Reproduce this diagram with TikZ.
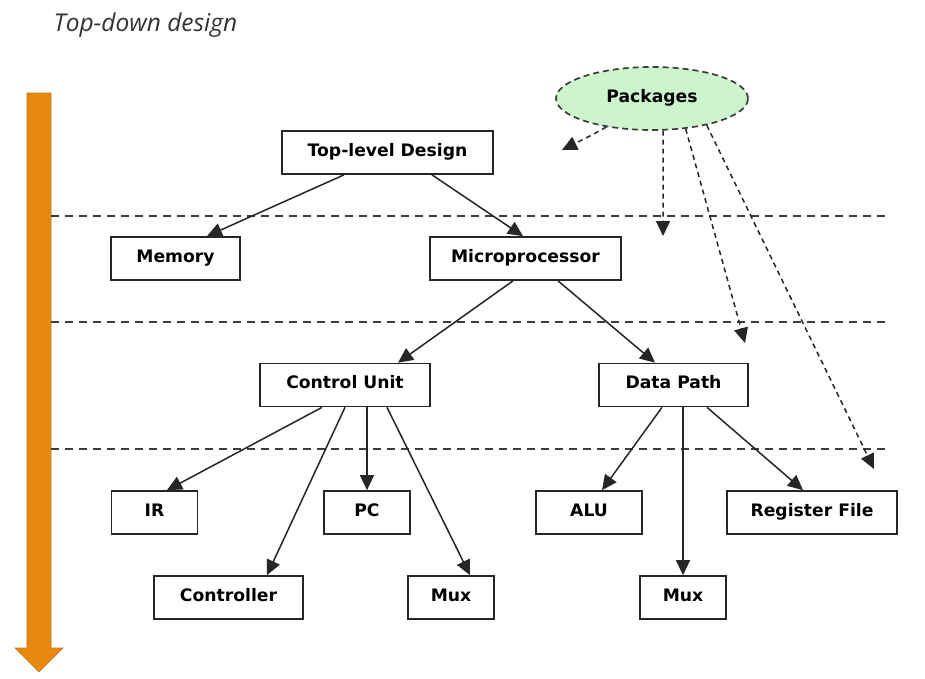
\documentclass[tikz,border=0pt]{standalone}
\usepackage{fontspec}
\setmainfont{DejaVu Sans}
\newfontfamily\titlefont{Open Sans}
\usetikzlibrary{arrows.meta,shapes.geometric}
\definecolor{barorange}{HTML}{E8890F}
\definecolor{pkggreen}{HTML}{CCF5CC}
\definecolor{linegray}{HTML}{3C3C3C}
\tikzset{
  block/.style    = {shape=rectangle, draw=black!85, line width=1.7pt,
                     minimum height=43pt, inner sep=0pt,
                     text height=0.73em, text depth=0em,
                     font=\fontsize{17.2}{19}\selectfont\bfseries},
  pkgnode/.style  = {shape=ellipse, draw=linegray, fill=pkggreen,
                     line width=1.7pt, dash pattern=on 6pt off 4pt,
                     minimum width=192pt, minimum height=63pt, inner sep=0pt,
                     text height=0.73em, text depth=0em,
                     font=\fontsize{17.2}{19}\selectfont\bfseries},
  link/.style     = {draw=black!85, line width=1.5pt,
                     -{Triangle[length=15pt,width=14pt]}},
  deplink/.style  = {link, dash pattern=on 5pt off 4pt},
  divider/.style  = {draw=linegray, line width=1.7pt, dash pattern=on 8pt off 6pt}
}
\begin{document}
\begin{tikzpicture}[x=1pt, y=-1pt]
  \useasboundingbox[fill=white] (0,0) rectangle (925,678);

  \node[anchor=base west, text=black!80, font=\titlefont\itshape\fontsize{24.5}{27}\selectfont]
    (title) at (50,31) {Top-down design};

  % time bar
  \fill[barorange, draw=barorange!85!black, line width=0.6pt]
    (27,93) -- (51,93) -- (51,648) -- (63,648) -- (39,672) -- (15,648) -- (27,648) -- cycle;

  % levels
  \draw[divider] (51,216) -- (890,216);
  \draw[divider] (51,322) -- (890,322);
  \draw[divider] (51,449) -- (890,449);

  \node[block, minimum width=211pt] (top)   at (387.5,152.5) {Top-level Design};
  \node[block, minimum width=129pt] (mem)   at (175.5,258.5) {Memory};
  \node[block, minimum width=191pt] (micro) at (525.5,258.5) {Microprocessor};
  \node[block, minimum width=170pt] (cu)    at (345,385)     {Control Unit};
  \node[block, minimum width=149pt] (dp)    at (673.5,385)   {Data Path};
  \node[block, minimum width=86pt]  (ir)    at (154.5,512.5) {IR};
  \node[block, minimum width=86pt]  (pc)    at (367,512.5)   {PC};
  \node[block, minimum width=149pt] (ctrl)  at (228.5,597.5) {Controller};
  \node[block, minimum width=86pt]  (muxa)  at (451,597.5)   {Mux};
  \node[block, minimum width=106pt] (alu)   at (589,512.5)   {ALU};
  \node[block, minimum width=170pt] (rf)    at (812,512.5)   {Register File};
  \node[block, minimum width=86pt]  (muxb)  at (683,597.5)   {Mux};

  \node[pkgnode] (pkg) at (652,98.5) {Packages};

  \draw[link] ([xshift=-43.5pt]top.south) -- ([xshift=31.5pt]mem.north);
  \draw[link] ([xshift=44.5pt]top.south)  -- ([xshift=-2.5pt]micro.north);
  \draw[link] ([xshift=-12.5pt]micro.south) -- ([xshift=53pt]cu.north);
  \draw[link] ([xshift=32.5pt]micro.south)  -- ([xshift=-18.5pt]dp.north);
  \draw[link] ([xshift=-23pt]cu.south) -- ([xshift=12.5pt]ir.north);
  \draw[link] (cu.south)               -- ([xshift=38.5pt]ctrl.north);
  \draw[link] ([xshift=22pt]cu.south)  -- (pc.north);
  \draw[link] ([xshift=42pt]cu.south)  -- ([xshift=19pt]muxa.north);
  \draw[link] ([xshift=-11.5pt]dp.south) -- ([xshift=13pt]alu.north);
  \draw[link] ([xshift=9.5pt]dp.south)   -- (muxb.north);
  \draw[link] ([xshift=33.5pt]dp.south)  -- ([xshift=-9pt]rf.north);

  % package use
  \coordinate (useTop)   at (562,150);
  \coordinate (useMicro) at (663,236);
  \coordinate (useDp)    at (745,343);
  \coordinate (useRf)    at (874,469);
  \draw[deplink] (pkg.212) .. controls (590,136) .. (useTop);
  \draw[deplink] (pkg.289) -- (useMicro);
  \draw[deplink] (pkg.318) -- (useDp);
  \draw[deplink] (pkg.334) -- (useRf);
\end{tikzpicture}
\end{document}
